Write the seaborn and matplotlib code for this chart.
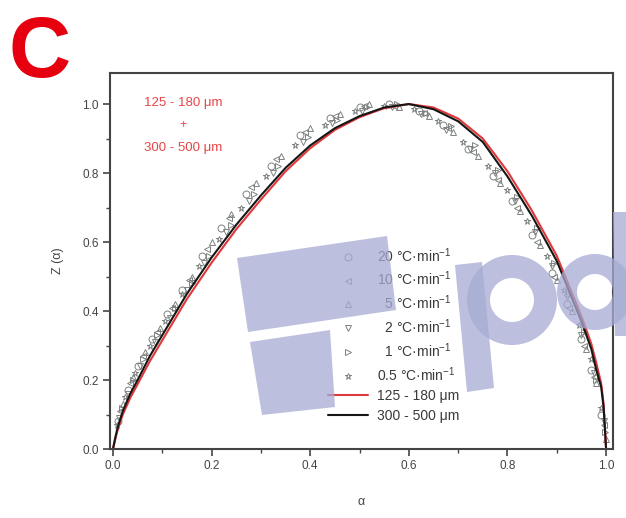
import seaborn as sns
import matplotlib.pyplot as plt
import pandas as pd
from matplotlib.patches import Polygon, Wedge
from matplotlib.transforms import Affine2D
from matplotlib.ticker import MultipleLocator, FormatStrFormatter

# ---- master-plot curves Z(alpha) for the two particle-size fractions ----
alpha_fit = [0.0, 0.005, 0.01, 0.02, 0.035, 0.05, 0.075, 0.1, 0.125, 0.15, 0.2, 0.25,
             0.3, 0.35, 0.4, 0.45, 0.5, 0.55, 0.6, 0.65, 0.7, 0.75, 0.8, 0.85,
             0.9, 0.93, 0.95, 0.97, 0.98, 0.99, 0.995, 1.0]
z_fine = [0.0, 0.03, 0.058, 0.10, 0.148, 0.188, 0.255, 0.315, 0.375, 0.435, 0.54, 0.637,
          0.723, 0.805, 0.872, 0.925, 0.962, 0.988, 1.0, 0.99, 0.958, 0.90, 0.805, 0.69,
          0.56, 0.455, 0.385, 0.305, 0.25, 0.19, 0.13, 0.0]
z_coarse = [0.0, 0.035, 0.065, 0.11, 0.16, 0.20, 0.27, 0.33, 0.39, 0.45, 0.555, 0.65,
            0.735, 0.815, 0.88, 0.93, 0.965, 0.99, 1.0, 0.985, 0.95, 0.89, 0.79, 0.675,
            0.545, 0.44, 0.37, 0.29, 0.23, 0.18, 0.12, 0.0]
size_labels = ["125 - 180 \u03bcm", "300 - 500 \u03bcm"]

# ---- experimental Z(alpha) at each heating rate ----
rates = ["20", "10", "5", "2", "1", "0.5"]
a_20 = [0.01, 0.03, 0.05, 0.08, 0.11, 0.14, 0.18, 0.22, 0.27, 0.32, 0.38, 0.44, 0.50,
        0.56, 0.62, 0.67, 0.72, 0.77, 0.81, 0.85, 0.89, 0.92, 0.95, 0.97, 0.99]
z_20 = [0.08, 0.17, 0.24, 0.32, 0.39, 0.46, 0.56, 0.64, 0.74, 0.82, 0.91, 0.96, 0.99,
        1.00, 0.98, 0.94, 0.87, 0.79, 0.72, 0.62, 0.51, 0.42, 0.32, 0.23, 0.10]
a_10 = [0.015, 0.035, 0.06, 0.09, 0.12, 0.155, 0.19, 0.235, 0.28, 0.33, 0.39, 0.45, 0.51,
        0.57, 0.63, 0.68, 0.73, 0.78, 0.82, 0.86, 0.895, 0.925, 0.955, 0.975, 0.995]
z_10 = [0.11, 0.19, 0.27, 0.34, 0.41, 0.49, 0.58, 0.67, 0.76, 0.84, 0.92, 0.965, 0.995,
        0.995, 0.975, 0.93, 0.86, 0.78, 0.70, 0.60, 0.50, 0.41, 0.30, 0.21, 0.07]
a_5 = [0.02, 0.04, 0.065, 0.095, 0.125, 0.16, 0.20, 0.24, 0.29, 0.34, 0.40, 0.46, 0.52,
       0.58, 0.64, 0.69, 0.74, 0.785, 0.825, 0.865, 0.90, 0.93, 0.96, 0.98, 1.0]
z_5 = [0.13, 0.21, 0.28, 0.35, 0.42, 0.50, 0.60, 0.68, 0.77, 0.85, 0.93, 0.97, 1.00,
       0.99, 0.965, 0.92, 0.85, 0.77, 0.69, 0.59, 0.49, 0.40, 0.29, 0.19, 0.03]
a_2 = [0.012, 0.03, 0.055, 0.085, 0.115, 0.15, 0.185, 0.23, 0.275, 0.325, 0.385, 0.445, 0.505,
       0.565, 0.625, 0.675, 0.725, 0.775, 0.815, 0.855, 0.89, 0.92, 0.95, 0.975, 0.995]
z_2 = [0.09, 0.16, 0.24, 0.31, 0.38, 0.46, 0.54, 0.63, 0.72, 0.80, 0.89, 0.945, 0.98,
       0.99, 0.97, 0.925, 0.87, 0.80, 0.72, 0.63, 0.53, 0.44, 0.33, 0.22, 0.08]
a_1 = [0.018, 0.04, 0.06, 0.09, 0.125, 0.16, 0.195, 0.24, 0.285, 0.335, 0.395, 0.455, 0.515,
       0.575, 0.635, 0.685, 0.735, 0.78, 0.82, 0.86, 0.895, 0.925, 0.955, 0.98, 0.998]
z_1 = [0.12, 0.20, 0.26, 0.33, 0.41, 0.48, 0.56, 0.65, 0.74, 0.82, 0.905, 0.955, 0.99,
       1.00, 0.975, 0.935, 0.88, 0.81, 0.73, 0.64, 0.54, 0.45, 0.34, 0.20, 0.05]
a_05 = [0.008, 0.025, 0.045, 0.075, 0.105, 0.14, 0.175, 0.215, 0.26, 0.31, 0.37, 0.43, 0.49,
        0.55, 0.61, 0.66, 0.71, 0.76, 0.80, 0.84, 0.88, 0.915, 0.945, 0.97, 0.99]
z_05 = [0.07, 0.15, 0.22, 0.30, 0.37, 0.45, 0.53, 0.61, 0.70, 0.79, 0.88, 0.94, 0.98,
        0.995, 0.985, 0.95, 0.89, 0.82, 0.75, 0.66, 0.56, 0.46, 0.36, 0.26, 0.12]

rate_alpha = [a_20, a_10, a_5, a_2, a_1, a_05]
rate_z = [z_20, z_10, z_5, z_2, z_1, z_05]
rate_markers = ["o", "<", "^", "v", ">", "*"]
rate_pad = ["", "", "\u2007", "\u2007", "\u2007", ""]

# ---- style ----
sns.set_theme(style="ticks")
plt.rcParams["font.family"] = ["Liberation Sans", "DejaVu Sans"]
plt.rcParams["mathtext.fontset"] = "custom"
plt.rcParams["mathtext.rm"] = "Liberation Sans"
plt.rcParams["mathtext.it"] = "Liberation Sans:italic"
plt.rcParams["mathtext.bf"] = "Liberation Sans:bold"

W, H = 626, 518
fig = plt.figure(figsize=(W / 100, H / 100), dpi=100)
ax = fig.add_axes([110 / W, 1 - 449 / H, (613 - 110) / W, (449 - 73) / H])

ink = "#444444"
mk_col = "#7d8280"

# experimental points
for lab, pad, xs, zs, m in zip(rates, rate_pad, rate_alpha, rate_z, rate_markers):
    df = pd.DataFrame({"alpha": xs, "Z": zs})
    sns.lineplot(data=df, x="alpha", y="Z", ax=ax, estimator=None, sort=False,
                 linestyle="", marker=m, markersize=5 if m != "*" else 4.5,
                 markerfacecolor="none", markeredgecolor=mk_col, markeredgewidth=0.7,
                 color=mk_col, label=f"{pad}{lab} \u00b0C\u00b7min$^{{-1}}$")

# master curves
fit_df = pd.DataFrame({"alpha": alpha_fit, "fine": z_fine, "coarse": z_coarse})
sns.lineplot(data=fit_df, x="alpha", y="fine", ax=ax, estimator=None, color="#e0383a",
             linewidth=1.5, label=size_labels[0])
sns.lineplot(data=fit_df, x="alpha", y="coarse", ax=ax, estimator=None, color="#161616",
             linewidth=1.5, label=size_labels[1])

ax.set_xlim(-0.006, 1.014)
ax.set_ylim(0.0, 1.09)
ax.xaxis.set_major_locator(MultipleLocator(0.2))
ax.xaxis.set_minor_locator(MultipleLocator(0.1))
ax.yaxis.set_major_locator(MultipleLocator(0.2))
ax.yaxis.set_minor_locator(MultipleLocator(0.1))
ax.xaxis.set_major_formatter(FormatStrFormatter("%.1f"))
ax.yaxis.set_major_formatter(FormatStrFormatter("%.1f"))
ax.tick_params(which="major", direction="out", length=5, width=1.2, color=ink,
               labelsize=8.5, labelcolor=ink, pad=3)
ax.tick_params(which="minor", direction="out", length=3, width=1.0, color=ink)
ax.tick_params(top=False, right=False)
for sp in ax.spines.values():
    sp.set_color(ink)
    sp.set_linewidth(1.5)

ax.set_xlabel("\u03b1", fontsize=9, color=ink, labelpad=17)
ax.set_ylabel("Z (\u03b1)", fontsize=9, color=ink, labelpad=13)

# size-fraction note
red = "#e84545"
ax.text(183 / W, 1 - 103 / H, size_labels[0], transform=fig.transFigure,
        ha="center", va="center", fontsize=9.5, color=red)
ax.text(183 / W, 1 - 125 / H, "+", transform=fig.transFigure,
        ha="center", va="center", fontsize=9, color=red)
ax.text(183 / W, 1 - 148 / H, size_labels[1], transform=fig.transFigure,
        ha="center", va="center", fontsize=9.5, color=red)

# legend
handles, labels = ax.get_legend_handles_labels()
ax.legend(handles, labels, loc="upper left", bbox_to_anchor=(328 / W, 1 - 246 / H),
          bbox_transform=fig.transFigure, frameon=False, fontsize=10,
          handlelength=2.9, handletextpad=0.6, labelspacing=0.38,
          borderpad=0, borderaxespad=0, labelcolor="#3a3a3a")

# panel letter
fig.text(40 / W, 1 - 77 / H, "C", ha="center", va="baseline", fontsize=62,
         fontweight="bold", color="#e6000f")

# translucent site stamp over the panel
px = Affine2D().scale(0.01, -0.01).translate(0, H / 100) + fig.dpi_scale_trans
stamp = dict(facecolor="#a6abd3", edgecolor="none", alpha=0.75, zorder=50, transform=px)
fig.add_artist(Polygon([(237, 258), (387, 236), (396, 310), (248, 332)], **stamp))
fig.add_artist(Polygon([(250, 342), (330, 330), (335, 407), (262, 415)], **stamp))
fig.add_artist(Polygon([(455, 265), (482, 262), (494, 388), (467, 392)], **stamp))
fig.add_artist(Wedge((512, 300), 45, 0, 360, width=23, **stamp))
fig.add_artist(Wedge((595, 292), 38, 0, 360, width=20, **stamp))
fig.add_artist(Polygon([(613, 212), (640, 212), (640, 336), (615, 336)], **stamp))

fig.savefig("out.png", dpi=100)
